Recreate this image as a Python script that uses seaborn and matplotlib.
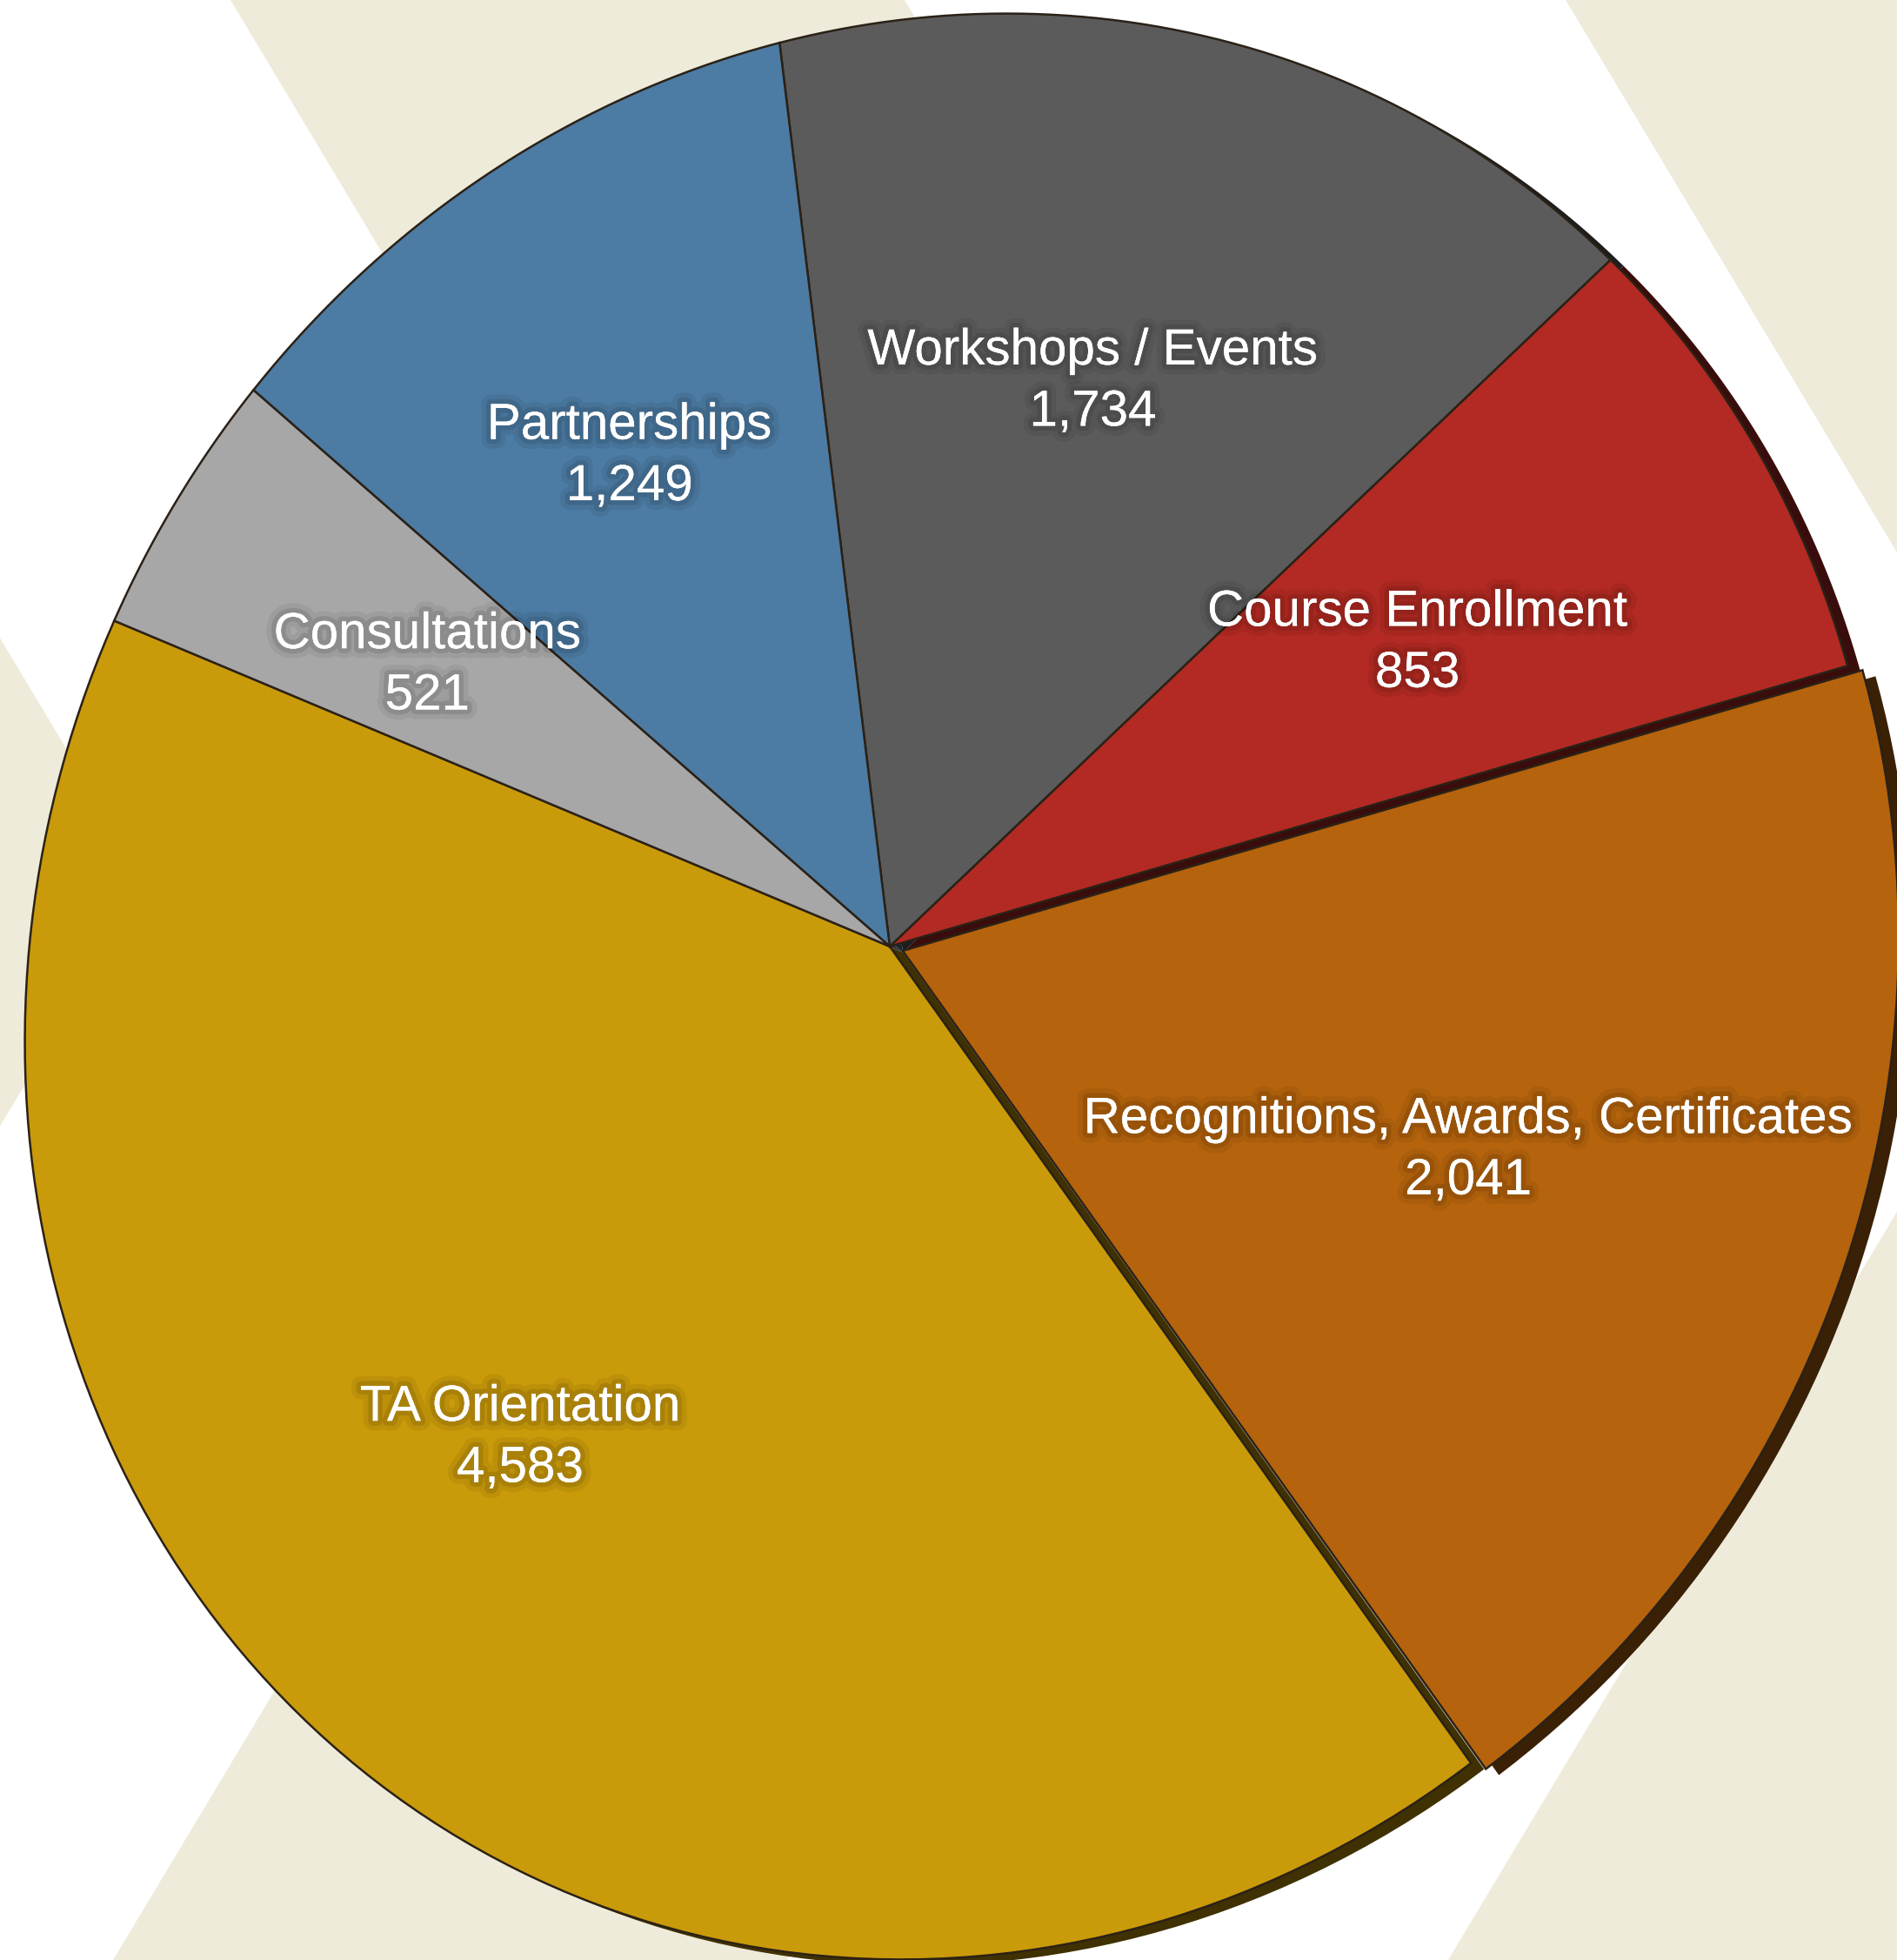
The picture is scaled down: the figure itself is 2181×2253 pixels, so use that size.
import numpy as np
import matplotlib
matplotlib.use("Agg")
import matplotlib.pyplot as plt
import matplotlib.patheffects as pe
from matplotlib.colors import to_rgb
from matplotlib.path import Path
from matplotlib.transforms import Transform, Affine2D
import seaborn as sns

# data
categories = ["TA Orientation", "Recognitions, Awards, Certificates", "Course Enrollment",
              "Workshops / Events", "Partnerships", "Consultations"]
values = [4583, 2041, 853, 1734, 1249, 521]
colors = ["#C99A0A", "#B5630C", "#B22A23", "#5B5B5B", "#4C7BA3", "#A7A7A7"]
explode = [0, 0.015, 0, 0, 0, 0]

W, H = 2181, 2253  # output size in px (1 data unit = 1 px)


class TiltTransform(Transform):
    """Perspective look: unit disk -> tilted ellipse, pie centre moved off the ellipse centre."""
    input_dims = 2
    output_dims = 2
    is_separable = False
    has_inverse = False

    def __init__(self, apex, center, shape):
        super().__init__()
        q = np.asarray(apex, float)
        self.t = np.hypot(*q)
        self.e = q / self.t
        self.s = np.sqrt(1 - self.t ** 2)
        self.center = np.asarray(center, float)
        self.shape = np.asarray(shape, float)

    def transform_non_affine(self, values):
        v = np.asarray(values, float).reshape(-1, 2)
        a = v @ self.e
        b = v - a[:, None] * self.e
        p = ((a + self.t)[:, None] * self.e + self.s * b) / (1 + self.t * a)[:, None]
        return self.center + p @ self.shape.T

    def transform_path_non_affine(self, path):
        pts = []
        for seg, code in path.iter_bezier():
            if code == Path.MOVETO:
                pts.append(seg.control_points[:1])
            else:
                pts.append(seg(np.linspace(0, 1, 30))[1:])
        return Path(self.transform_non_affine(np.concatenate(pts)), closed=True)


sns.set_theme(style="white")
plt.rcParams["font.family"] = ["Liberation Sans", "DejaVu Sans"]

fig = plt.figure(figsize=(W / 200, H / 200), dpi=200)
ax = fig.add_axes([0, 0, 1, 1])

# background chevron stripes
beige = "#EFEBDA"
k, yv = 0.6, 1014
yy = np.linspace(0, H, 600)
bend = k * (yv - np.abs(yy - (H - yv)))
for a0, a1 in [(-1200, -440), (265, 1040), (1800, 2600)]:
    ax.fill_betweenx(yy, a0 + bend, a1 + bend, color=beige, lw=0, zorder=0)

tilt = TiltTransform(apex=(-0.0706, 0.0432), center=(1097, 1119),
                     shape=[[1068, 31], [31, 1118]])
start = 157

# dark side of the disc
side_colors = [tuple(c * 0.32 for c in to_rgb(col)) for col in colors]
side, _ = ax.pie(values, colors=side_colors, explode=explode, startangle=start,
                 wedgeprops=dict(linewidth=0))
side_tr = tilt + Affine2D().translate(15, -7) + ax.transData
for w in side:
    w.set_transform(side_tr)
    w.set_zorder(1)

labels = [f"{c}\n{v:,}" for c, v in zip(categories, values)]
wedges, texts = ax.pie(values, labels=labels, colors=colors, explode=explode, startangle=start,
                       labeldistance=0.625,
                       wedgeprops=dict(edgecolor="#2b2116", linewidth=0.9),
                       textprops=dict(color="white", fontsize=21, ha="center", va="center",
                                      linespacing=1.39))
top_tr = tilt + ax.transData
text_tr = tilt + Affine2D().translate(-4, -7) + ax.transData
for w in wedges:
    w.set_transform(top_tr)
    w.set_zorder(2)
glow = [pe.Stroke(linewidth=8, foreground=(0, 0, 0, 0.06)),
        pe.Stroke(linewidth=4, foreground=(0, 0, 0, 0.10)),
        pe.Normal()]
for t in texts:
    t.set_transform(text_tr)
    t.set_zorder(3)
    t.set_path_effects(glow)

ax.set_xlim(0, W)
ax.set_ylim(0, H)
ax.set_aspect("auto")
ax.axis("off")

fig.savefig("out.png", dpi=200, facecolor="white")
